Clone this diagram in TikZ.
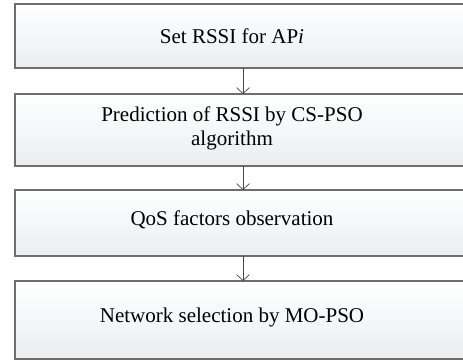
\documentclass[tikz,border=0pt]{standalone}
\usepackage{fontspec}
\setmainfont{Liberation Serif}
\usetikzlibrary{arrows.meta}
\definecolor{boxbot}{RGB}{234,238,240}
\definecolor{boxline}{RGB}{110,110,110}
\definecolor{arrline}{RGB}{70,70,70}
\tikzset{
  box/.style={draw=boxline, line width=1.1pt, top color=white, bottom color=boxbot,
    anchor=north west, minimum width=456pt, inner sep=0pt, outer sep=0pt},
  lbl/.style={font=\fontsize{21}{24}\selectfont, align=center, text=black, inner sep=0pt},
  flow/.style={draw=arrline, line width=0.7pt, -{Straight Barb[length=6pt,width=13pt]}}
}
\begin{document}
\begin{tikzpicture}[x=1pt,y=-1pt]
\useasboundingbox (0,0) rectangle (463,362);
\begin{scope}
\clip (0,0) rectangle (463,362);
\node[box, minimum height=64pt] (b1) at (15,4) {};
\node[box, minimum height=72pt] (b2) at (15,94) {};
\node[box, minimum height=66pt] (b3) at (15,190) {};
\node[box, minimum height=78pt] (b4) at (15,281) {};
\end{scope}
\node[lbl] (t1) at (232,36) {Set RSSI for AP\textit{i}};
\node[lbl] (t2) at (232,128) {Prediction of RSSI by CS-PSO\\algorithm};
\node[lbl] (t3) at (232,220) {QoS factors observation};
\node[lbl] (t4) at (232,317) {Network selection by MO-PSO};
\draw[flow] (b1.south) -- (b2.north);
\draw[flow] (b2.south) -- (b3.north);
\draw[flow] (b3.south) -- (b4.north);
\end{tikzpicture}
\end{document}
